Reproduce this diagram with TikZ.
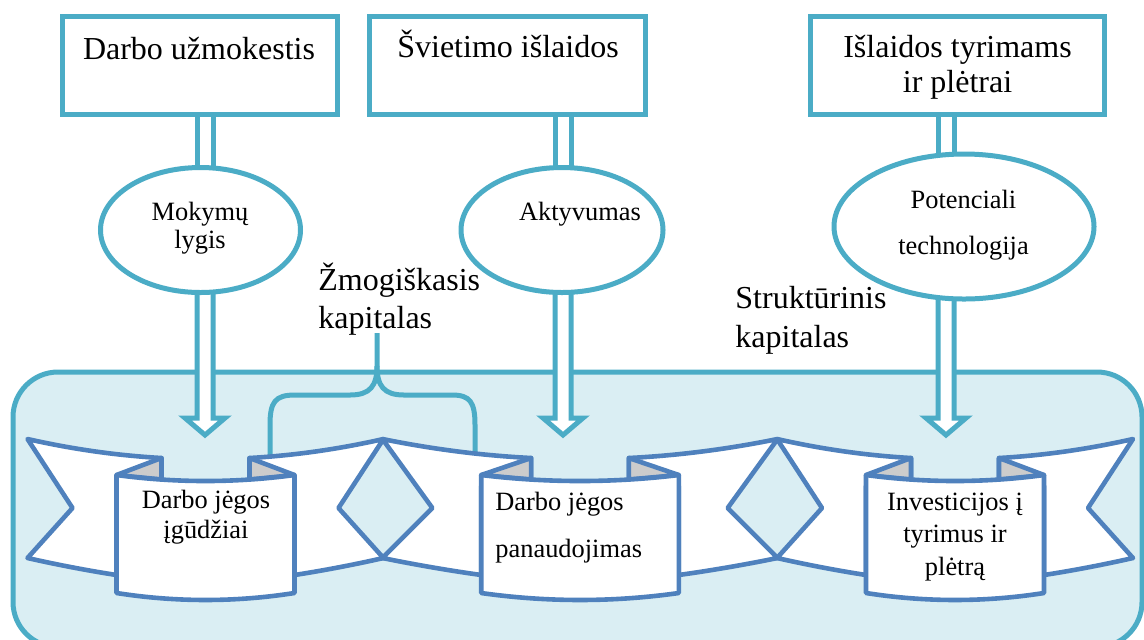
\documentclass[tikz,border=0pt]{standalone}
\usepackage{fontspec}
\setmainfont{Liberation Serif}
\usetikzlibrary{shapes.geometric,calc}
\definecolor{teal5}{RGB}{75,172,198}
\definecolor{rib}{RGB}{79,129,189}
\definecolor{bgblue}{RGB}{218,238,243}
\definecolor{foldgray}{RGB}{204,204,204}
\pgfdeclarelayer{bottom}
\pgfdeclarelayer{mid}
\pgfsetlayers{bottom,mid,main}
\tikzset{
  box/.style={draw=teal5, line width=2.5pt, fill=white, rectangle, inner sep=0pt},
  oval/.style={draw=teal5, line width=2.5pt, fill=white, ellipse, inner sep=0pt},
  shaft/.style={draw=teal5, line width=2.5pt, fill=white, line join=miter},
  ribbonpart/.style={draw=rib, line width=2.3pt, fill=white, line join=round},
  foldpart/.style={draw=rib, line width=2.3pt, fill=foldgray, line join=round},
  bracepath/.style={draw=teal5, line width=2.5pt},
  bigtxt/.style={inner sep=0pt, font=\fontsize{16}{17.5}\selectfont},
  smalltxt/.style={inner sep=0pt, font=\fontsize{13.2}{15}\selectfont},
}
\newcommand\ribbonhalf{%
  \path[ribbonpart] (-178,439) .. controls (-133.3,449.1) and (-88.7,455.5) .. (-44,458)
     -- (-44,486) -- (-89,486) -- (-89,575)
     .. controls (-118.7,570.4) and (-148.3,564.7) .. (-178,558) -- (-133,508) -- cycle;
  \path[foldpart] (-89,475) -- (-44,458) -- (-44,479.5) -- cycle;
}
\newcommand\drawbanner[2]{%
  \begin{scope}[shift={(#1,0)}, xscale=#2]
    \ribbonhalf
    \begin{scope}[xscale=-1]\ribbonhalf\end{scope}
    \path[ribbonpart] (-89,475) .. controls (-29.7,483) and (29.7,483) .. (89,475)
       -- (89,593) .. controls (29.7,602.3) and (-29.7,602.3) .. (-89,593) -- cycle;
  \end{scope}}
\begin{document}
\begin{tikzpicture}[x=0.5pt,y=-0.5pt]
\useasboundingbox (0,0) rectangle (1144,639);
% boxes and ellipses
\node[box, minimum width=137.5pt, minimum height=49pt] (b1) at (200,65) {};
\node[box, minimum width=138pt, minimum height=49pt] (b2) at (507,65) {};
\node[box, minimum width=147pt, minimum height=49pt] (b3) at (957.5,65) {};
\node[oval, minimum width=100pt, minimum height=62.5pt] (e1) at (200.5,230) {};
\node[oval, minimum width=101pt, minimum height=62.5pt] (e2) at (562,230) {};
\node[oval, minimum width=130pt, minimum height=72.5pt] (e3) at (964,226.5) {};
% shaft positions and arrow tips
\coordinate (s1) at (205,0);
\coordinate (s2) at (563,0);
\coordinate (s3) at (946,0);
\coordinate (t1) at (205,435);
\coordinate (t2) at (563,435);
\coordinate (t3) at (946,435);
\coordinate (bt) at (377,333);
\begin{pgfonlayer}{bottom}
  \draw[draw=teal5, fill=bgblue, line width=2.5pt, rounded corners=22.5pt] (13,372) rectangle (1142,647);
\end{pgfonlayer}
\begin{pgfonlayer}{mid}
  % brace
  \path[bracepath] (270,458) -- (270,425) .. controls (270,402) and (275,395) .. (295,395)
     -- (350,395) .. controls (370,395) and (377,386) .. (377,366) -- (bt);
  \path[bracepath] (377,366) .. controls (377,386) and (384,395) .. (404,395)
     -- (452,395) .. controls (470,395) and (475,402) .. (475,425) -- (475,457);
  % ribbons
  \drawbanner{205.5}{1}
  \drawbanner{580}{1.11}
  \drawbanner{955}{1}
  % hollow arrows
  \foreach \b/\e/\s/\t in {b1/e1/s1/t1, b2/e2/s2/t2, b3/e3/s3/t3} {
    \path[shaft] ($(\b.south -| \s)+(-8,-8)$) rectangle ($(\e.north -| \s)+(8,8)$);
    \path[shaft] ($(\e.south -| \s)+(-8,-10)$) -- ($(\t)+(-8,-17)$) -- ($(\t)+(-20,-17)$)
       -- (\t) -- ($(\t)+(20,-17)$) -- ($(\t)+(8,-17)$) -- ($(\e.south -| \s)+(8,-10)$) -- cycle;
  }
\end{pgfonlayer}
% texts (base anchor = baseline of the last line)
\node[bigtxt, anchor=base] (tb1) at (199,59) {Darbo užmokestis};
\node[bigtxt, anchor=base] (tb2) at (508,57) {Švietimo išlaidos};
\node[bigtxt, anchor=base, align=center] (tb3) at (957.5,92) {Išlaidos tyrimams\\ir plėtrai};
\node[smalltxt, anchor=base, align=center, font=\fontsize{13.2}{14}\selectfont] (te1) at (200,248) {Mokymų\\lygis};
\node[smalltxt, anchor=base] (te2) at (580,220) {Aktyvumas};
\node[smalltxt, anchor=base, align=center, font=\fontsize{13.2}{23}\selectfont] (te3) at (963.5,254) {Potenciali\\technologija};
\node[bigtxt, anchor=base west, align=left, font=\fontsize{16}{19}\selectfont] (th) at (318,328) {Žmogiškasis\\kapitalas};
\node[bigtxt, anchor=base west, align=left, font=\fontsize{16}{19.5}\selectfont] (ts) at (735,347) {Struktūrinis\\kapitalas};
\node[smalltxt, anchor=base, align=center, font=\fontsize{13.2}{15}\selectfont] (tp1) at (206,538) {Darbo jėgos\\įgūdžiai};
\node[smalltxt, anchor=base west, align=left, font=\fontsize{13.2}{23.5}\selectfont] (tp2) at (495,557) {Darbo jėgos\\panaudojimas};
\node[smalltxt, anchor=base, align=center, font=\fontsize{13.2}{16.25}\selectfont] (tp3) at (955,575) {Investicijos į\\tyrimus ir\\plėtrą};
\end{tikzpicture}
\end{document}
